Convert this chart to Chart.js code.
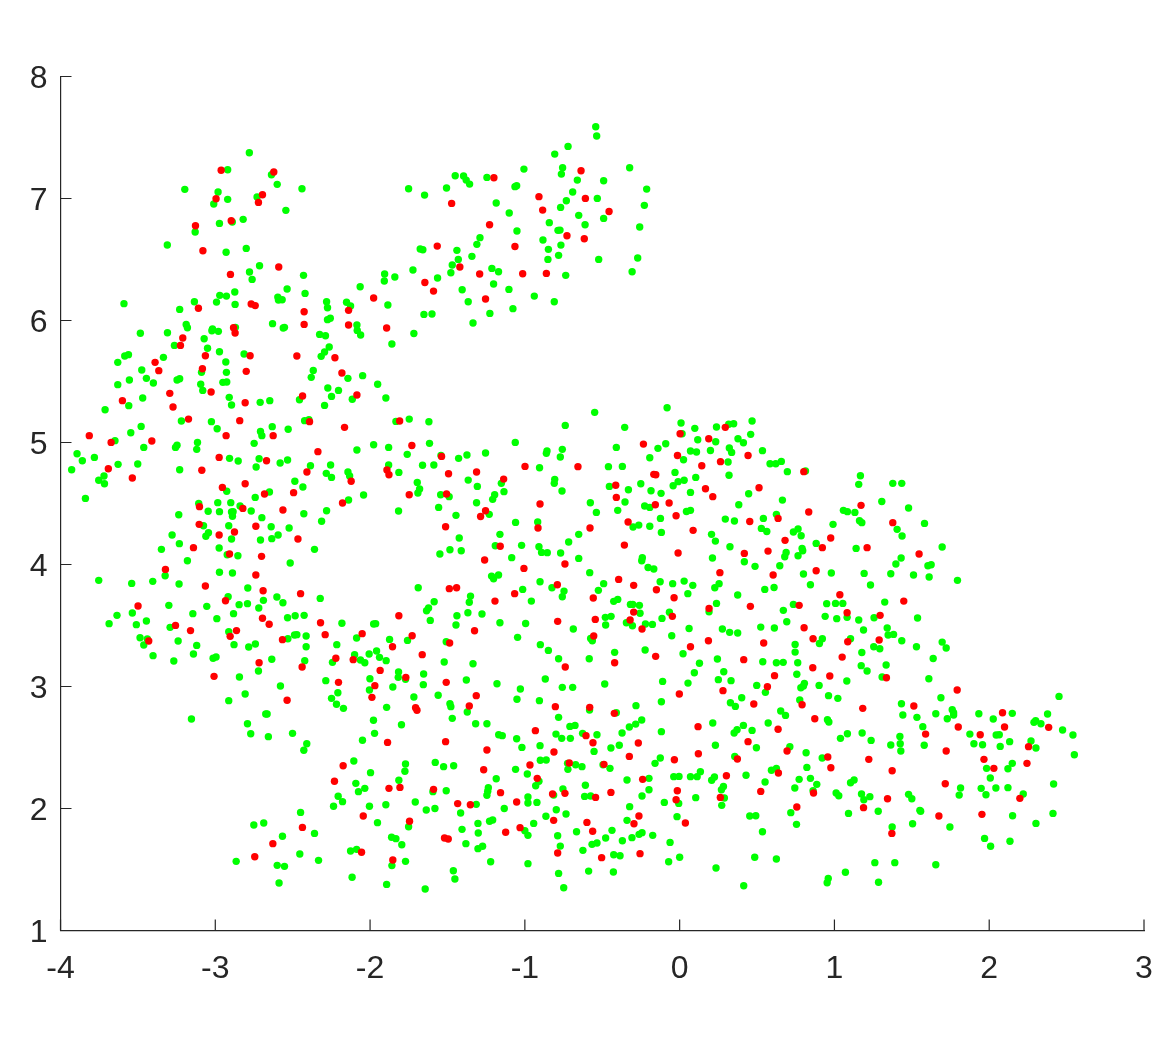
<!DOCTYPE html>
<html>
<head>
<meta charset="utf-8">
<title>Scatter</title>
<script src="https://cdn.jsdelivr.net/npm/chart.js@4"></script>
<style>
  html, body { margin: 0; padding: 0; background: #fff; }
  canvas { display: block; }
</style>
</head>
<body>
<canvas id="scatterChart" width="1172" height="1047"></canvas>
<script>
const xTicks = [-4, -3, -2, -1, 0, 1, 2, 3];
const yTicks = [1, 2, 3, 4, 5, 6, 7, 8];

const greenPoints = [
  [-2.78,7.375],[-2.92,7.236],[-2.637,7.195],[-2.6,7.116],[-3.197,7.075],[-2.982,7.053],[-2.44,7.08],[-2.73,7.012],[-2.92,6.993],[-3.01,6.955],
  [-2.544,6.903],[-2.82,6.829],[-2.89,6.807],[-2.973,6.796],[-3.13,6.725],[-3.31,6.619],[-2.8,6.591],[-2.93,6.56],[-2.714,6.449],[-2.779,6.397],
  [-2.43,6.37],[-2.762,6.337],[-1.906,6.381],[-1.908,6.324],[-1.84,6.356],[-2.064,6.277],[-2.536,6.258],[-2.874,6.233],[-2.42,6.222],[-2.971,6.206],
  [-2.928,6.2],[-2.596,6.192],[-2.592,6.168],[-2.568,6.17],[-3.135,6.154],[-2.992,6.151],[-2.281,6.154],[-2.152,6.149],[-2.126,6.119],[-2.872,6.132],
  [-3.59,6.138],[-1.885,6.127],[-3.23,6.091],[-2.275,6.105],[-2.257,6.018],[-2.275,6.007],[-2.63,5.974],[-3.188,5.968],[-3.18,5.941],[-2.87,5.944],
  [-2.561,5.938],[-2.553,5.944],[-2.085,5.963],[-2.083,5.919],[-2.061,5.881],[-3.018,5.93],[-3.022,5.916],[-2.98,5.911],[-3.484,5.895],[-3.309,5.9],
  [-2.326,5.886],[-2.288,5.875],[-3.072,5.851],[-2.264,5.783],[-3.264,5.796],[-1.859,5.807],[-3.05,5.772],[-2.294,5.742],[-2.316,5.706],[-2.973,5.744],
  [-2.814,5.725],[-3.585,5.709],[-3.561,5.72],[-3.335,5.698],
  [-3.63,5.657],[-2.932,5.66],[-3.475,5.594],[-2.367,5.591],[-3.089,5.575],[-2.928,5.575],[-2.38,5.534],[-2.048,5.548],[-2.143,5.526],[-3.445,5.526],
  [-3.555,5.512],[-3.247,5.512],[-3.23,5.523],[-3.4,5.488],[-3.63,5.474],[-3.094,5.477],[-2.951,5.493],[-2.926,5.496],[-1.951,5.477],[-3.081,5.427],
  [-2.273,5.447],[-2.204,5.427],[-2.249,5.378],[-2.91,5.37],[-1.898,5.365],[-3.469,5.365],[-2.115,5.354],[-2.456,5.351],[-2.648,5.343],[-2.71,5.329],
  [-2.895,5.307],[-3.559,5.302],[-2.294,5.304],[-3.712,5.269],[-3.219,5.176],[-3.025,5.171],[-2.423,5.179],[-2.395,5.187],[-1.833,5.173],[-3.479,5.132],
  [-2.632,5.13],[-2.988,5.113],[-2.529,5.108],[-3.546,5.08],[-2.708,5.091],[-2.699,5.056],[-3.648,5.015],[-3.115,5.001],[-2.749,4.993],[-1.977,4.982],
  [-2.085,4.938],[-1.88,4.96],[-3.462,4.96],[-3.257,4.96],[-3.247,4.977],[-3.12,4.944],[-3.893,4.908],[-3.781,4.878],[-3.859,4.851],[-2.908,4.87],
  [-2.852,4.848],[-2.717,4.867],[-2.533,4.856],[-2.581,4.832],[-3.628,4.821],[-3.501,4.824],[-2.736,4.799],[-2.385,4.81],[-2.255,4.815],[-1.88,4.815],
  [-3.928,4.777],[-3.23,4.777],[-1.814,4.755],[-2.283,4.747],[-2.249,4.714],[-2.143,4.758],[-2.132,4.725],[-3.719,4.725],[-3.753,4.69],[-3.716,4.662],
  [-2.486,4.682],[-2.434,4.635],[-2.926,4.6],[-2.65,4.594],[-2.742,4.55],[-2.042,4.57],[-3.839,4.542],[-3.107,4.501],[-2.984,4.507],[-2.9,4.507],
  [-2.139,4.529],[-2.84,4.479],[-3.046,4.436],[-2.973,4.433],[-2.895,4.43],[-2.885,4.433],[-2.768,4.438],[-2.281,4.441],[-1.816,4.438],[-2.428,4.416],
  [-3.236,4.408],[-2.889,4.395],[-2.699,4.384],[-2.313,4.354],[-3.076,4.318],[-2.913,4.318],[-2.639,4.31],[-2.523,4.299],[-3.044,4.261],[-3.061,4.231],
  [-3.279,4.242],[-2.594,4.242],[-2.635,4.212],[-2.895,4.209],[-2.708,4.201],[-3.232,4.171],[-3.348,4.124],[-2.975,4.135],[-2.359,4.124],[-2.854,4.072],
  [-2.923,4.08],[-3.18,4.031],[-2.516,4.012],[-2.973,3.936],[-2.889,3.93],[-3.324,3.908],[-3.753,3.87],[-3.54,3.845],[-3.404,3.862],[-3.234,3.84],
  [-2.79,3.807],[-2.917,3.736],[-2.602,3.733],[-2.689,3.706],[-2.322,3.722],[-2.563,3.687],[-3.3,3.665],[-3.055,3.657],[-2.846,3.671],[-2.792,3.679],
  [-2.719,3.643],[-3.536,3.602],[-3.635,3.583],[-3.145,3.597],[-2.882,3.597],[-2.99,3.556],[-3.445,3.537],[-2.533,3.564],[-2.484,3.58],[-2.426,3.583],
  [-3.686,3.515],[-3.51,3.507],[-3.292,3.485],[-2.182,3.518],[-1.977,3.512],[-1.964,3.515],[-2.913,3.449],[-2.488,3.422],[-2.473,3.425],[-2.413,3.414],
  [-2.087,3.397],[-2.531,3.392],[-3.486,3.4],[-3.439,3.389],[-1.874,3.386],[-3.24,3.373],
  [-3.462,3.34],[-3.12,3.337],[-3.402,3.253],[-3.141,3.266],[-3.268,3.209],[-3.154,2.734],
  // upper arm
  [-0.542,7.588],[-0.536,7.512],[-0.721,7.427],[-0.807,7.364],[-1.006,7.241],[-0.756,7.252],[-0.764,7.2],[-0.323,7.252],[-1.45,7.187],[-1.396,7.184],
  [-1.379,7.151],[-1.357,7.118],[-1.245,7.173],[-1.064,7.097],[-1.053,7.105],[-0.661,7.151],[-0.491,7.146],[-1.751,7.08],[-1.648,7.028],[-1.506,7.086],
  [-0.213,7.077],[-0.691,7.053],[-0.532,7.001],[-0.732,6.982],[-1.185,6.963],[-0.228,6.944],[-0.769,6.927],[-1.101,6.881],[-0.652,6.862],[-0.491,6.837],
  [-0.842,6.802],[-0.611,6.785],[-0.258,6.766],[-0.786,6.739],[-0.773,6.741],[-1.051,6.733],[-1.29,6.679],[-0.883,6.66],[-1.31,6.624],[-0.767,6.618],
  [-0.848,6.583],[-1.676,6.586],[-1.659,6.58],[-1.439,6.575],[-1.342,6.526],[-0.782,6.534],[-0.271,6.512],[-1.43,6.501],[-0.851,6.501],[-0.523,6.501],
  [-1.469,6.455],[-1.213,6.427],[-1.723,6.414],[-0.307,6.4],[-1.17,6.4],[-1.478,6.392],[-0.736,6.37],[-1.564,6.348],[-1.202,6.299],[-1.405,6.252],
  [-1.103,6.255],[-0.939,6.2],[-1.366,6.154],[-0.81,6.154],[-1.077,6.097],[-1.652,6.05],[-1.6,6.053],[-1.226,6.058],[-1.335,5.979],[-1.717,5.894],
  // middle
  [-0.081,5.285],[-0.549,5.247],[-1.747,5.192],[-1.62,5.17],[0.009,5.16],[-0.739,5.14],[-0.355,5.124],[0.098,5.116],[0.238,5.127],[0.016,5.072],
  [0.117,5.023],[0.233,5.006],[-1.616,4.993],[-1.062,5.001],[-0.09,4.99],[-0.409,4.96],[-0.14,4.952],[-0.758,4.944],[-0.857,4.93],[-0.861,4.911],
  [0.07,4.93],[0.109,4.922],[0.199,4.935],[-1.76,4.903],[-1.542,4.894],[-1.254,4.914],[-1.374,4.897],[-1.428,4.87],[-0.771,4.881],[-0.193,4.875],
  [0.025,4.859],[-0.905,4.793],[-1.661,4.813],[-1.588,4.815],[-0.46,4.802],[-0.37,4.804],[-0.03,4.755],[0.104,4.714],[-1.366,4.692],[-0.807,4.698],
  [-0.81,4.665],[-1.152,4.665],[-1.695,4.673],[0.029,4.69],[-0.01,4.679],[-0.042,4.646],[-0.454,4.64],[-1.307,4.64],[-1.68,4.619],[-1.691,4.586],
  [-0.331,4.613],[-0.251,4.662],[-0.185,4.605],[-0.12,4.583],[-1.135,4.597],[-0.76,4.602],[0.07,4.591],[-1.544,4.572],[-1.489,4.556],[-1.195,4.572],
  [-1.208,4.534],[-0.353,4.512],[-1.312,4.506],[-0.577,4.506],[-0.226,4.479],[-0.193,4.468],[-1.557,4.468],[-0.4,4.444],[0.044,4.435],[0.07,4.444],
  [-0.538,4.427],[-1.445,4.403],[-1.23,4.411],[-0.124,4.378],[-1.06,4.345],[-0.917,4.348],[-0.301,4.307],[-0.264,4.323],[-0.193,4.313],[-0.118,4.263],
  [-1.161,4.247],[-0.652,4.247],[0.206,4.247],[-1.424,4.217],[0.231,4.192],[-0.717,4.184],[-1.191,4.154],[-1.021,4.157],[-0.909,4.146],[-0.892,4.099],
  [-0.855,4.097],[-1.484,4.121],[-1.411,4.113],[-1.549,4.086],[-0.769,4.094],[-1.085,4.056],[-0.652,4.05],[-0.241,4.056],[-0.245,4.031],[0.212,4.053],
  [-0.204,3.976],[-0.167,3.963],[-0.581,3.933],[-1.215,3.905],[-1.17,3.914],[-1.202,3.883],[-0.902,3.859],[-0.491,3.843],[-1.689,3.81],[-0.126,3.859],
  [-0.045,3.843],[0.029,3.864],[0.085,3.829],[0.255,3.843],[0.227,3.81],[-1.014,3.796],[-0.825,3.81],[-0.747,3.782],[-0.758,3.736],[-0.525,3.788],
  [-1.351,3.741],[-1.359,3.69],[0.053,3.761],[-1.586,3.695],[-0.958,3.7],[-0.4,3.714],[-0.426,3.698],[0.238,3.681],[-0.318,3.673],[-0.303,3.673],
  [-0.26,3.665],[-1.622,3.643],[-1.635,3.621],[-0.066,3.608],[0.19,3.613],[-0.256,3.6],[-1.368,3.605],[-1.277,3.594],[-1.439,3.58],[-0.48,3.567],
  [-0.443,3.575],[-0.114,3.558],[-1.611,3.542],[-1.161,3.523],[-0.995,3.517],[-0.344,3.523],[-0.305,3.498],[-0.478,3.504],[-0.221,3.512],[-0.176,3.509],
  [-1.445,3.504],[-0.687,3.471],[0.061,3.476],[-0.051,3.416],[-1.047,3.403],[-0.575,3.394],[-0.564,3.375],[-1.758,3.378],[-1.508,3.367],[-0.9,3.343],
  [-0.848,3.296],[-0.42,3.28],[-0.223,3.299],[0.022,3.269],[-0.782,3.228],[-0.584,3.228],[0.244,3.225],
  // right side
  [0.468,5.176],[0.317,5.149],[0.349,5.154],[0.459,5.067],[0.377,5.031],[0.412,4.998],[0.321,4.955],[0.336,4.919],[0.535,4.933],[0.313,4.84],
  [0.584,4.826],[0.621,4.826],[0.657,4.845],[0.696,4.761],[0.813,4.766],[0.319,4.731],[1.168,4.728],[1.157,4.657],[1.377,4.665],[1.435,4.665],
  [0.446,4.58],[0.664,4.528],[1.306,4.517],[0.382,4.49],[1.479,4.463],[0.625,4.411],[1.058,4.444],[1.084,4.433],[1.132,4.427],[0.295,4.372],
  [0.354,4.356],[0.541,4.378],[1.162,4.359],[1.177,4.343],[1.582,4.337],[0.991,4.329],[0.528,4.296],[0.563,4.271],[0.765,4.291],[0.735,4.266],
  [0.785,4.236],[1.405,4.288],[1.437,4.233],[0.325,4.146],[0.882,4.173],[1.14,4.132],[1.696,4.143],[0.791,4.132],[0.795,4.113],[0.688,4.099],
  [0.679,4.064],[0.765,4.072],[0.418,4.023],[0.487,3.985],[0.647,3.99],[1.431,4.053],[1.397,4.004],[1.604,3.99],[1.625,3.998],[0.8,3.922],
  [0.98,3.93],[1.192,3.927],[1.364,3.924],[1.511,3.914],[1.612,3.897],[1.795,3.87],[0.61,3.812],[0.55,3.796],[0.845,3.834],[1.233,3.832],
  [0.375,3.75],[0.735,3.673],[0.95,3.679],[1.007,3.681],[1.054,3.681],[1.325,3.692],[0.67,3.624],[0.94,3.575],[1.015,3.556],[1.082,3.567],
  [1.157,3.545],[1.256,3.564],[1.537,3.561],[0.692,3.531],[0.276,3.471],[0.323,3.444],[0.375,3.438],[0.524,3.487],[0.612,3.479],[1.188,3.463],
  [1.341,3.479],[1.347,3.422],[1.382,3.427],[0.922,3.392],[0.903,3.353],[1.104,3.392],[1.435,3.375],[1.696,3.364],[1.722,3.315],[0.746,3.345],
  [0.746,3.282],[1.254,3.326],[1.293,3.31],[1.53,3.326],[1.177,3.279],[1.638,3.23],
  // lower left
  [-2.879,3.343],[-2.784,3.324],[-2.741,3.348],[-2.413,3.326],[-2.215,3.343],[-3.014,3.231],[-2.995,3.242],[-2.635,3.223],[-2.422,3.212],[-2.243,3.198],
  [-2.1,3.261],[-2.006,3.266],[-1.958,3.291],[-2.062,3.217],[-2.034,3.195],[-1.939,3.239],[-1.896,3.212],[-1.521,3.201],[-1.335,3.187],[-2.721,3.127],
  [-2.844,3.078],[-1.816,3.119],[-1.818,3.075],[-1.771,3.059],[-1.654,3.102],[-2.001,3.064],[-2.286,3.048],[-1.378,3.053],[-1.18,3.023],[-1.656,3.015],
  [-2.579,3.004],[-1.853,2.996],[-2.004,2.971],[-1.029,2.979],[-2.807,2.938],[-2.208,2.949],[-1.717,2.914],[-1.56,2.928],[-2.249,2.903],[-2.913,2.884],
  [-1.051,2.895],[-0.906,2.884],[-2.217,2.854],[-1.484,2.859],[-1.478,2.835],[-2.172,2.821],[-1.893,2.829],[-1.372,2.791],[-2.674,2.775],[-2.665,2.775],
  [-1.469,2.739],[-1.978,2.723],[-2.792,2.695],[-1.797,2.687],[-1.318,2.695],[-1.245,2.695],[-2.771,2.613],[-2.501,2.616],[-1.971,2.616],[-2.657,2.589],
  [-1.169,2.605],[-1.146,2.597],[-1.053,2.572],[-0.902,2.515],[-2.049,2.559],[-2.409,2.531],[-1.019,2.501],[-2.428,2.477],[-2.105,2.389],[-1.771,2.365],
  [-1.579,2.378],[-1.525,2.343],[-1.46,2.351],[-1.997,2.294],[-1.775,2.305],[-1.06,2.321],[-1.185,2.244],[-0.984,2.283],[-1.814,2.231],[-2.092,2.206],
  [-0.909,2.223],[-0.93,2.187],[-2.034,2.165],[-2.075,2.138],[-1.236,2.171],[-1.24,2.141],[-1.245,2.108],[-1.594,2.138],[-1.508,2.146],[-2.206,2.1],
  [-2.178,2.056],[-0.98,2.094],[-0.98,2.045],[-1.708,2.053],[-1.898,2.031],[-1.314,2.034],[-0.922,2.05],[-2.236,2.018],[-2.004,2.018],[-1.581,2.0],
  [-1.637,1.988],[-1.133,2.0],[-2.449,1.968],[-1.415,1.963],[-1.952,1.884],[-2.687,1.881],[-2.751,1.865],[-1.228,1.895],[-1.208,1.906],[-1.303,1.878],
  [-0.943,1.878],[-1.751,1.851],[-2.359,1.796],[-1.406,1.829],[-1.301,1.799],[-1.0,1.818],[-0.98,1.78],[-2.566,1.772],[-1.861,1.764],[-1.833,1.753],
  [-1.795,1.703],[-1.381,1.712],[-1.303,1.671],[-1.273,1.69],[-2.126,1.652],[-2.087,1.665],[-2.454,1.627],[-2.333,1.575],[-2.865,1.567],[-2.6,1.534],
  [-2.553,1.526],[-1.771,1.567],[-1.859,1.532],[-1.221,1.564],[-0.98,1.548],[-1.462,1.49],[-1.452,1.422],[-2.116,1.436],[-2.588,1.389],[-1.893,1.378],
  [-1.644,1.34],
  // lower middle
  [0.128,3.19],[0.537,3.203],[0.625,3.195],[0.669,3.198],[0.763,3.195],[0.095,3.113],[0.285,3.121],[0.757,3.1],[0.25,3.056],[0.332,3.048],
  [-0.868,3.061],[-0.11,3.042],[0.054,3.028],[-0.484,3.02],[0.498,3.009],[-0.758,2.993],[-0.691,2.993],[0.901,3.009],[0.806,3.026],[0.8,3.004],
  [0.783,2.99],[0.554,2.952],[0.962,2.925],[1.022,2.903],[0.401,2.908],[0.776,2.889],[-0.118,2.875],[0.328,2.867],[0.36,2.837],[-0.282,2.843],
  [-0.582,2.807],[-0.409,2.785],[0.653,2.799],[0.684,2.763],[-0.782,2.747],[-0.245,2.725],[0.955,2.728],[0.964,2.709],[0.572,2.701],[0.214,2.701],
  [-0.284,2.692],[-0.325,2.668],[-0.709,2.673],[-0.676,2.681],[0.412,2.681],[0.468,2.64],[0.371,2.646],[0.352,2.619],[-0.118,2.63],[-0.372,2.619],
  [-0.627,2.616],[-0.534,2.605],[-0.799,2.61],[-0.762,2.575],[-0.706,2.575],[1.039,2.575],[-0.39,2.518],[-0.444,2.496],[0.231,2.518],[0.496,2.498],
  [0.712,2.507],[-0.553,2.468],[0.817,2.457],[-0.125,2.414],[-0.159,2.37],[0.356,2.427],[0.921,2.414],[-0.862,2.397],[-0.9,2.395],[-0.724,2.37],
  [-0.672,2.359],[-0.631,2.343],[-0.722,2.321],[-0.495,2.359],[-0.45,2.329],[0.822,2.337],[0.593,2.313],[0.625,2.329],[0.134,2.302],[0.113,2.261],
  [0.07,2.261],[-0.038,2.261],[-0.004,2.263],[0.429,2.272],[0.225,2.258],[0.207,2.231],[-0.198,2.247],[-0.34,2.233],[0.772,2.239],[0.845,2.247],
  [0.552,2.217],[0.886,2.198],[-0.609,2.19],[0.283,2.181],[0.27,2.154],[0.744,2.168],[-0.754,2.16],[-0.198,2.154],[0.862,2.146],[1.011,2.127],
  [1.028,2.105],[-0.814,2.11],[-0.614,2.099],[-0.575,2.102],[-0.243,2.102],[0.104,2.089],[0.289,2.086],[-0.099,2.05],[-0.006,2.042],[0.272,2.026],
  [-0.323,2.015],[-0.797,1.99],[-0.734,1.955],[0.453,1.938],[0.492,1.941],[0.718,1.966],[-0.864,1.936],[-0.017,1.933],[-0.34,1.903],[0.755,1.87],
  [-0.788,1.777],[-0.666,1.81],[-0.437,1.821],[0.535,1.81],[-0.243,1.802],[-0.262,1.788],[-0.174,1.78],[-0.308,1.761],[-0.478,1.758],[-0.37,1.736],
  [-0.534,1.717],[-0.566,1.706],[-0.062,1.722],[-0.771,1.692],[-0.625,1.657],[-0.426,1.621],[-0.385,1.613],[0.0,1.6],[-0.071,1.564],[0.485,1.6],
  [0.625,1.586],[0.235,1.512],[-0.782,1.468],[-0.588,1.487],[-0.428,1.479],[0.96,1.427],[0.953,1.392],[-0.749,1.351],[0.414,1.367],
  // lower right
  [1.173,3.171],[1.211,3.127],[1.334,3.176],[1.308,3.078],[1.61,3.064],[1.08,3.045],[1.688,2.908],[2.451,2.919],[1.433,2.859],[1.442,2.766],
  [1.761,2.81],[1.77,2.785],[1.77,2.766],[1.655,2.777],[1.533,2.747],[1.729,2.736],[1.933,2.777],[2.026,2.733],[2.149,2.78],[2.377,2.774],
  [2.289,2.706],[2.3,2.72],[2.334,2.695],[1.571,2.671],[2.474,2.643],[2.541,2.602],[1.084,2.613],[1.179,2.619],[1.875,2.61],[1.423,2.591],
  [1.237,2.558],[2.045,2.602],[2.065,2.605],[1.364,2.52],[1.425,2.531],[1.901,2.531],[1.957,2.523],[2.27,2.553],[2.132,2.548],[2.071,2.509],
  [2.302,2.496],[1.58,2.518],[1.429,2.471],[2.55,2.441],[2.149,2.37],[2.121,2.326],[1.983,2.329],[2.007,2.25],[1.127,2.233],[1.104,2.211],
  [2.416,2.201],[1.815,2.168],[1.806,2.11],[1.948,2.165],[2.043,2.168],[2.121,2.171],[1.979,2.113],[2.22,2.119],[1.175,2.119],[1.19,2.072],
  [1.229,2.097],[1.479,2.116],[1.5,2.08],[1.552,1.985],[1.557,1.977],[1.283,1.977],[1.091,1.96],[2.412,1.96],[2.151,1.941],[2.302,1.878],
  [1.505,1.875],[1.373,1.848],[1.746,1.848],[1.97,1.755],[2.134,1.731],[2.009,1.69],[1.261,1.556],[1.39,1.556],[1.655,1.539],[1.071,1.477],
  [1.285,1.395]
];

const redPoints = [
  [-2.962,7.231],[-2.622,7.217],[-2.995,6.998],[-2.695,7.031],[-2.721,6.968],[-3.128,6.777],[-2.897,6.818],[-3.08,6.572],[-2.59,6.438],[-2.902,6.378],
  [-1.977,6.184],[-2.768,6.135],[-2.742,6.122],[-3.109,6.1],[-2.426,6.072],[-2.139,6.083],[-2.426,5.968],[-2.139,5.963],[-1.893,5.938],[-2.882,5.941],
  [-2.872,5.897],[-3.21,5.856],[-3.225,5.796],[-3.064,5.711],[-2.775,5.711],[-2.473,5.709],[-2.227,5.695],
  [-3.389,5.657],[-3.365,5.589],[-3.083,5.605],[-2.8,5.583],[-2.182,5.57],[-3.294,5.403],[-3.027,5.414],[-2.436,5.381],[-2.085,5.389],[-3.6,5.343],
  [-2.807,5.326],[-3.273,5.291],[-3.173,5.192],[-2.842,5.179],[-2.391,5.171],[-1.809,5.176],[-2.165,5.124],[-3.814,5.056],[-2.93,5.056],[-2.626,5.056],
  [-3.673,5.001],[-3.41,5.012],[-2.337,4.925],[-2.975,4.878],[-2.669,4.851],[-3.691,4.785],[-3.087,4.772],[-2.408,4.758],[-1.891,4.774],[-1.878,4.736],
  [-3.536,4.709],[-2.122,4.682],[-2.807,4.662],[-2.954,4.632],[-2.682,4.578],[-2.494,4.589],[-2.178,4.504],[-3.102,4.474],[-2.822,4.46],[-2.563,4.447],
  [-3.104,4.329],[-2.738,4.313],[-2.876,4.266],[-2.975,4.242],[-2.466,4.209],[-3.141,4.138],[-2.908,4.086],[-2.701,4.067],[-3.322,3.96],[-2.738,3.914],
  [-3.064,3.824],[-2.691,3.785],[-2.449,3.761],[-2.934,3.703],[-3.499,3.66],[-2.695,3.559],[-1.814,3.58],[-3.257,3.501],[-2.652,3.51],[-2.32,3.523],
  [-3.16,3.458],[-2.863,3.458],[-2.904,3.411],[-2.29,3.425],[-2.051,3.433],[-2.566,3.384],[-3.43,3.373],
  // upper arm
  [-1.2,7.17],[-0.637,7.228],[-0.909,7.015],[-0.609,7.001],[-1.473,6.96],[-0.885,6.905],[-0.456,6.894],[-1.228,6.785],[-0.728,6.695],[-0.616,6.67],
  [-1.566,6.61],[-1.064,6.607],[-1.42,6.438],[-1.292,6.381],[-1.014,6.383],[-0.861,6.386],[-1.646,6.312],[-1.59,6.241],[-1.254,6.176],
  // middle
  [0.003,5.072],[-0.234,4.987],[0.188,5.031],[-1.73,4.976],[-1.538,4.886],[-0.014,4.894],[0.264,4.843],[0.143,4.81],[-0.999,4.804],[-0.657,4.802],
  [-1.493,4.744],[-1.312,4.758],[-0.167,4.739],[-0.154,4.736],[-1.137,4.7],[-0.413,4.649],[0.167,4.621],[-1.747,4.572],[-1.506,4.578],[-0.409,4.55],
  [0.214,4.556],[-0.902,4.496],[-0.157,4.49],[-0.068,4.504],[-1.254,4.441],[-1.286,4.394],[-0.023,4.4],[-0.333,4.348],[-1.512,4.31],[-0.915,4.299],
  [-0.579,4.299],[0.087,4.28],[-0.357,4.159],[-1.159,4.149],[-0.01,4.094],[-1.26,4.037],[-0.741,4.004],[-1.006,3.968],[0.26,3.933],[-0.394,3.878],
  [-0.79,3.834],[-0.297,3.829],[-1.488,3.802],[-1.441,3.81],[-0.15,3.793],[-1.066,3.761],[-0.558,3.725],[-0.036,3.728],[-1.193,3.7],[0.19,3.64],
  [-0.297,3.61],[-0.047,3.575],[-0.545,3.55],[-0.32,3.545],[-0.788,3.534],[-0.243,3.471],[-1.325,3.457],[-1.728,3.416],[-0.555,3.414],[0.186,3.375],
  [-1.486,3.356],[0.07,3.326],[-1.663,3.261],[-0.155,3.247],
  // right side
  [0.295,5.124],[0.442,4.894],[0.802,4.761],[0.513,4.629],[1.172,4.485],[0.834,4.43],[0.453,4.353],[0.636,4.378],[1.377,4.343],[0.681,4.198],
  [0.976,4.217],[0.922,4.138],[1.211,4.138],[0.418,4.091],[0.571,4.11],[1.547,4.086],[0.882,3.949],[0.604,3.914],[1.035,3.752],[0.457,3.657],
  [0.772,3.665],[1.448,3.7],[1.082,3.605],[1.295,3.583],[0.804,3.482],[0.862,3.392],[1.289,3.381],[1.086,3.367],[0.543,3.356],[1.05,3.241],
  [0.414,3.22],
  // lower left
  [-2.717,3.195],[-2.221,3.231],[-2.109,3.22],[-2.439,3.16],[-3.008,3.083],[-1.935,3.132],[-1.769,3.075],[-2.204,3.034],[-1.969,3.007],[-1.508,3.034],
  [-1.988,2.911],[-1.314,2.925],[-2.536,2.887],[-1.359,2.84],[-1.706,2.826],[-1.697,2.805],[-0.932,2.638],[-1.887,2.542],[-1.512,2.548],[-1.245,2.479],
  [-2.174,2.351],[-0.967,2.356],[-1.266,2.318],[-2.23,2.223],[-0.92,2.247],[-1.878,2.165],[-1.807,2.173],[-1.59,2.157],[-1.157,2.13],[-1.434,2.04],
  [-1.352,2.031],[-1.053,2.053],[-2.044,1.938],[-1.745,1.895],[-2.437,1.845],[-1.124,1.805],[-1.031,1.843],[-1.519,1.758],[-1.495,1.75],[-2.628,1.712],
  [-2.055,1.641],[-2.745,1.605],[-1.853,1.578],[-1.855,3.326],
  // lower middle
  [-0.739,3.16],[-0.42,3.195],[0.86,3.154],[0.613,3.089],[0.97,3.086],[0.567,2.998],[0.28,2.966],[-0.002,2.938],[0.479,2.856],[0.791,2.851],
  [-0.803,2.835],[-0.581,2.829],[-0.422,2.78],[0.873,2.736],[0.119,2.671],[0.636,2.649],[-0.605,2.597],[-0.56,2.539],[0.442,2.548],[-0.267,2.537],
  [-0.812,2.463],[0.121,2.449],[0.694,2.471],[-0.325,2.427],[0.957,2.422],[0.373,2.406],[-0.034,2.4],[-0.713,2.373],[-0.489,2.362],[0.977,2.334],
  [0.638,2.291],[0.302,2.269],[-0.239,2.239],[-0.015,2.146],[0.524,2.14],[0.865,2.127],[-0.821,2.119],[-0.741,2.124],[-0.444,2.132],[-0.543,2.091],
  [0.263,2.091],[-0.023,2.072],[0.757,2.012],[-0.263,1.938],[-0.814,1.903],[-0.295,1.875],[0.037,1.881],[-0.599,1.886],[-0.562,1.813],[-0.788,1.635],
  [-0.256,1.63],[-0.504,1.597],
  // lower right
  [1.336,3.072],[1.793,2.971],[1.183,2.821],[1.513,2.84],[2.086,2.785],[1.8,2.668],[2.099,2.668],[2.384,2.665],[1.589,2.61],[1.942,2.605],
  [2.254,2.507],[1.722,2.471],[1.222,2.403],[1.966,2.403],[2.244,2.37],[2.03,2.329],[1.373,2.31],[1.716,2.203],[1.343,2.08],[2.198,2.083],
  [1.188,2.007],[1.675,1.938],[1.953,1.952],[1.371,1.796]
];

const axisColor = "#262626";
const tickFont = { family: "'Liberation Sans', Arial, sans-serif", size: 32 };

// Chart.js has no inward ticks, so draw them from the scales
const inwardTicks = {
  id: "inwardTicks",
  afterDatasetsDraw(chart) {
    const c = chart.ctx;
    const sx = chart.scales.x;
    const sy = chart.scales.y;
    const area = chart.chartArea;
    c.save();
    c.strokeStyle = axisColor;
    c.lineWidth = 1.2;
    c.beginPath();
    xTicks.forEach((v) => {
      const p = sx.getPixelForValue(v);
      c.moveTo(p, area.bottom);
      c.lineTo(p, area.bottom - 11);
    });
    yTicks.forEach((v) => {
      const p = sy.getPixelForValue(v);
      c.moveTo(area.left, p);
      c.lineTo(area.left + 11, p);
    });
    c.stroke();
    c.restore();
  },
};

const toXY = (p) => ({ x: p[0], y: p[1] });

new Chart(document.getElementById("scatterChart").getContext("2d"), {
  type: "scatter",
  data: {
    datasets: [
      { label: "red", data: redPoints.map(toXY), backgroundColor: "#ff0000", pointRadius: 3.7, pointBorderWidth: 0, order: 0 },
      { label: "green", data: greenPoints.map(toXY), backgroundColor: "#00ff00", pointRadius: 3.7, pointBorderWidth: 0, order: 1 },
    ],
  },
  options: {
    responsive: false,
    animation: false,
    layout: { padding: { left: 0, top: 76.5, right: 28, bottom: 0 } },
    plugins: { legend: { display: false }, tooltip: { enabled: false } },
    scales: {
      x: {
        type: "linear",
        min: -4,
        max: 3,
        afterFit: (s) => { s.height = 116.5; },
        border: { color: axisColor, width: 1.2 },
        grid: { display: false, drawTicks: false },
        ticks: { stepSize: 1, color: axisColor, font: tickFont, padding: 19, maxRotation: 0, callback: (v) => String(v) },
      },
      y: {
        type: "linear",
        min: 1,
        max: 8,
        afterFit: (s) => { s.width = 60.5; },
        border: { color: axisColor, width: 1.2 },
        grid: { display: false, drawTicks: false },
        ticks: { stepSize: 1, color: axisColor, font: tickFont, padding: 13, labelOffset: 2.5, callback: (v) => String(v) },
      },
    },
  },
  plugins: [inwardTicks],
});
</script>
</body>
</html>
